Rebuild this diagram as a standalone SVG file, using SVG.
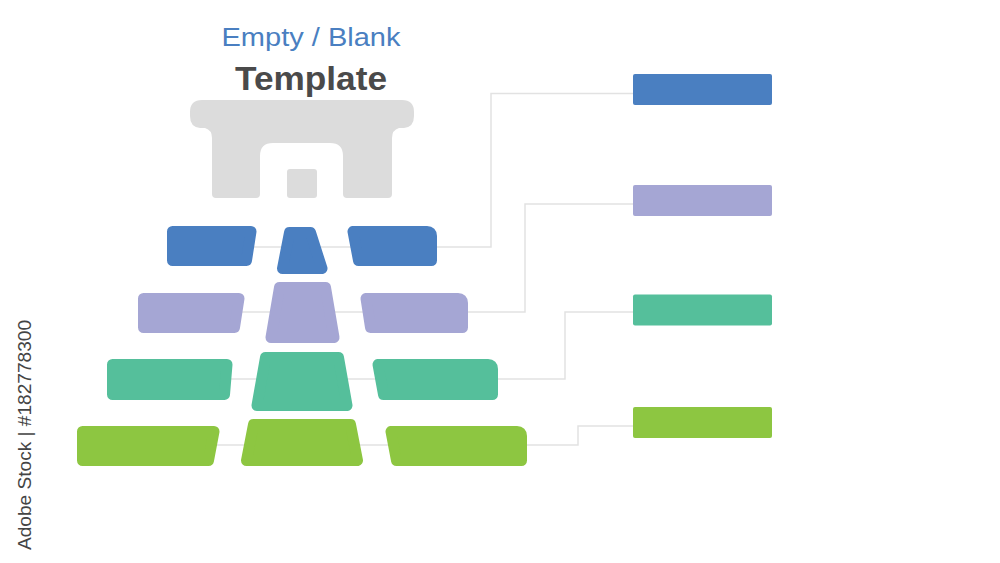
<svg xmlns="http://www.w3.org/2000/svg" width="1000" height="563" viewBox="0 0 1000 563">
<style>
.blk{stroke-width:11;stroke-linejoin:round}
.blue{fill:#4a7fc1;stroke:#4a7fc1}
.purple{fill:#a5a6d4;stroke:#a5a6d4}
.green{fill:#55bf9b;stroke:#55bf9b}
.lime{fill:#8dc641;stroke:#8dc641}
.conn{fill:none;stroke:#e2e2e2;stroke-width:1.5}
.temple{fill:#dcdcdc}
</style>
<rect width="1000" height="563" fill="#ffffff"/>
<g id="title">
<text x="311" y="46" font-family="Liberation Sans, Arial, sans-serif" font-size="26" fill="#4a7fc1" text-anchor="middle" textLength="179" lengthAdjust="spacingAndGlyphs">Empty / Blank</text>
<text x="311" y="90" font-family="Liberation Sans, Arial, sans-serif" font-size="33" font-weight="bold" fill="#4a4a4a" text-anchor="middle" textLength="152" lengthAdjust="spacingAndGlyphs">Template</text>
</g>
<g id="connectors">
<path class="conn" d="M 210,247 H 491 V 93.5 H 633"/>
<path class="conn" d="M 190,312 H 525 V 204 H 633"/>
<path class="conn" d="M 170,379 H 565 V 312 H 633"/>
<path class="conn" d="M 150,445 H 578 V 426 H 633"/>
</g>
<g id="temple">
<path class="temple" d="M 202,100 H 402 Q 414,100 414,112 V 116 Q 414,127 404,128 H 399 Q 392,130 392,138 V 194 Q 392,198 388,198 H 347 Q 343,198 343,194 V 156 Q 343,143 330,143 H 273 Q 260,143 260,156 V 194 Q 260,198 256,198 H 216 Q 212,198 212,194 V 138 Q 212,130 205,128 H 200 Q 190,127 190,116 V 112 Q 190,100 202,100 Z"/>
<rect class="temple" x="287" y="169" width="30" height="29" rx="3"/>
</g>
<g id="tier-blue">
<polygon class="blk blue" points="172.5,231.5 251,231.5 246.5,260.5 172.5,260.5"/>
<polygon class="blk blue" points="289.5,232.5 310.5,232.5 322,268.5 282.5,268.5"/>
<path class="blk blue" d="M 353,231.5 H 427 Q 431.5,231.5 431.5,236 V 260.5 H 358.5 Z"/>
</g>
<g id="tier-purple">
<polygon class="blk purple" points="143.5,298.5 239,298.5 234.5,327.5 143.5,327.5"/>
<polygon class="blk purple" points="279.5,287.5 325.5,287.5 334,337.5 271,337.5"/>
<path class="blk purple" d="M 366,298.5 H 458 Q 462.5,298.5 462.5,303 V 327.5 H 370.5 Z"/>
</g>
<g id="tier-green">
<polygon class="blk green" points="112.5,364.5 227,364.5 224.5,394.5 112.5,394.5"/>
<polygon class="blk green" points="265.5,357.5 338.5,357.5 347,405.5 257,405.5"/>
<path class="blk green" d="M 378,364.5 H 488 Q 492.5,364.5 492.5,369 V 394.5 H 383.5 Z"/>
</g>
<g id="tier-lime">
<polygon class="blk lime" points="82.5,431.5 214,431.5 208.5,460.5 82.5,460.5"/>
<polygon class="blk lime" points="253.5,424.5 350.5,424.5 357.5,460.5 246.5,460.5"/>
<path class="blk lime" d="M 391,431.5 H 517 Q 521.5,431.5 521.5,436 V 460.5 H 396.5 Z"/>
</g>
<g id="box-blue"><rect x="633" y="74" width="139" height="31" rx="2" fill="#4a7fc1"/></g>
<g id="box-purple"><rect x="633" y="185" width="139" height="31" rx="2" fill="#a5a6d4"/></g>
<g id="box-green"><rect x="633" y="294.5" width="139" height="31" rx="2" fill="#55bf9b"/></g>
<g id="box-lime"><rect x="633" y="407" width="139" height="31" rx="2" fill="#8dc641"/></g>
<g id="credit">
<text transform="translate(31,550) rotate(-90)" font-family="Liberation Sans, Arial, sans-serif" font-size="19" fill="#444444" textLength="230" lengthAdjust="spacingAndGlyphs">Adobe Stock | #182778300</text>
</g>
</svg>
